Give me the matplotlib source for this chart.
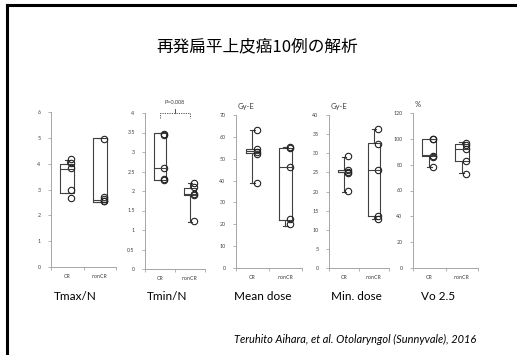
import matplotlib
matplotlib.use("Agg")
import matplotlib.pyplot as plt
from matplotlib.lines import Line2D

plt.rcParams['font.family'] = ['Lato', 'DejaVu Sans']

# ---------------- data ----------------
title = "再発扁平上皮癌10例の解析"
citation = "Teruhito Aihara, et al. Otolaryngol (Sunnyvale), 2016"
groups = ["CR", "nonCR"]
panel_names = ["Tmax/N", "Tmin/N", "Mean dose", "Min. dose", "Vo 2.5"]
units = ["", "", "Gy-E", "Gy-E", "%"]
y_max = [6, 4, 70, 40, 120]
y_step = [1, 0.5, 10, 5, 20]

# individual values (CR, nonCR)
tmax_cr = [4.2, 4.02, 3.85, 2.97, 2.68]
tmax_noncr = [4.96, 2.7, 2.62, 2.56, 2.55]
tmin_cr = [3.46, 3.44, 2.59, 2.31, 2.28]
tmin_noncr = [2.2, 2.1, 1.92, 1.89, 1.23]
mean_cr = [63, 54.5, 53.2, 52.3, 38.8]
mean_noncr = [55.5, 54.8, 46.2, 22.3, 20]
min_cr = [29.2, 25.5, 25.2, 24.9, 20.1]
min_noncr = [36.3, 32.5, 25.6, 13.7, 12.7]
vo_cr = [100, 99.5, 87, 86, 78]
vo_noncr = [97, 95.5, 92, 83, 73]

# box summaries: (whisker low, q1, median, q3, whisker high)
tmax_box = [(2.88, 2.88, 3.8, 4.0, 4.15), (2.5, 2.5, 2.6, 5.0, 5.0)]
tmin_box = [(2.29, 2.29, 2.6, 3.5, 3.5), (1.2, 1.9, 1.92, 2.08, 2.2)]
mean_box = [(38.8, 52.6, 53.5, 54.6, 63), (19, 22, 46.2, 55, 55.5)]
min_box = [(20, 25.0, 25.2, 25.5, 29), (12.7, 13.7, 25.6, 32.6, 36.3)]
vo_box = [(78, 87, 87.2, 100, 100), (73.4, 83, 91.8, 95.7, 97.3)]

p_text = "P=0.008"

values = [(tmax_cr, tmax_noncr), (tmin_cr, tmin_noncr), (mean_cr, mean_noncr),
          (min_cr, min_noncr), (vo_cr, vo_noncr)]
boxes = [tmax_box, tmin_box, mean_box, min_box, vo_box]

# ---------------- layout (pixels) ----------------
W, H = 517, 355
fig = plt.figure(figsize=(W / 100, H / 100), dpi=100)
fig.patch.set_facecolor("white")

# (left px, width px, y0 px (value 0), ytop px (value ymax))
layout = [(51, 65, 267, 112), (145, 60, 269, 113), (236, 66, 268, 115),
          (329, 60, 268, 115), (413, 65, 268, 113)]
label_x = [75, 167, 263, 356, 438]

axis_col = "#a6a6a6"
box_col = "#404040"

for i in range(5):
    lp, wp, y0, yt = layout[i]
    ax = fig.add_axes([lp / W, (H - y0) / H, wp / W, (y0 - yt) / H])
    ax.set_facecolor("none")

    stats = []
    for b in boxes[i]:
        lo, q1, med, q3, hi = b
        stats.append(dict(whislo=lo, q1=q1, med=med, q3=q3, whishi=hi, fliers=[]))
    ax.bxp(stats, positions=[1, 2], widths=0.42, showfliers=False,
           capwidths=0.14, manage_ticks=False,
           boxprops=dict(color=box_col, linewidth=0.8),
           medianprops=dict(color=box_col, linewidth=0.8),
           whiskerprops=dict(color=box_col, linewidth=0.8),
           capprops=dict(color=box_col, linewidth=0.8))
    for g, vals in enumerate(values[i]):
        ax.plot([g + 1 + 0.13] * len(vals), vals, linestyle="none", marker="o",
                markersize=4.6, markerfacecolor="none", markeredgecolor="#222222",
                markeredgewidth=0.8, clip_on=False)

    ax.set_xlim(0.5, 2.5)
    ax.set_ylim(0, y_max[i])
    for s in ["top", "right"]:
        ax.spines[s].set_visible(False)
    for s in ["left", "bottom"]:
        ax.spines[s].set_color(axis_col)
        ax.spines[s].set_linewidth(0.7)
    n = int(round(y_max[i] / y_step[i]))
    ticks = [k * y_step[i] for k in range(n + 1)]
    ax.set_yticks(ticks)
    ax.set_yticklabels([("%g" % t) for t in ticks])
    ax.set_xticks([1, 2])
    ax.set_xticklabels(groups)
    ax.set_xticks([0.5, 1.5, 2.5], minor=True)
    ax.tick_params(axis="x", which="major", length=0, labelsize=3.8,
                   pad=5, colors="#404040")
    ax.tick_params(axis="x", which="minor", length=2.5, width=0.6, color=axis_col)
    ax.tick_params(axis="y", length=2.5, width=0.6, color=axis_col,
                   labelsize=3.8, pad=5, labelcolor="#404040")

    if units[i]:
        ax.text(0.02, 1.035, units[i], transform=ax.transAxes, fontsize=5.5,
                color="#404040", ha="left", va="bottom")

    fig.text(label_x[i] / W, 1 - 296 / H, panel_names[i], fontsize=8.5,
             ha="center", va="center", color="black")

    if i == 1:
        # significance bracket
        ytop = y_max[i]
        ax.plot([1, 1, 2, 2], [ytop - 0.13, ytop, ytop, ytop - 0.13],
                color="#555555", linewidth=0.7, linestyle=(0, (1.2, 1.2)),
                clip_on=False)
        ax.plot([1.5, 1.5], [ytop, ytop + 0.1], color="#555555",
                linewidth=0.7, clip_on=False)
        ax.text(1.5, ytop + 0.2, p_text, fontsize=4, ha="center",
                va="bottom", color="#404040")

# title and citation
fig.text(257 / W, 1 - 47 / H, title, fontsize=12, ha="center", va="center",
         family=["Noto Sans CJK JP", "DejaVu Sans"])
fig.text(476 / W, 1 - 339 / H, citation, fontsize=7.9, ha="right", va="center",
         style="italic")

# slide frame (left and top edges)
fig.add_artist(Line2D([7 / W, 7 / W], [0, 1 - 5 / H], transform=fig.transFigure,
                      color="black", linewidth=2.2))
fig.add_artist(Line2D([7 / W, 1], [1 - 5 / H, 1 - 5 / H], transform=fig.transFigure,
                      color="black", linewidth=2.2))

fig.savefig("out.png", dpi=100, facecolor="white")
